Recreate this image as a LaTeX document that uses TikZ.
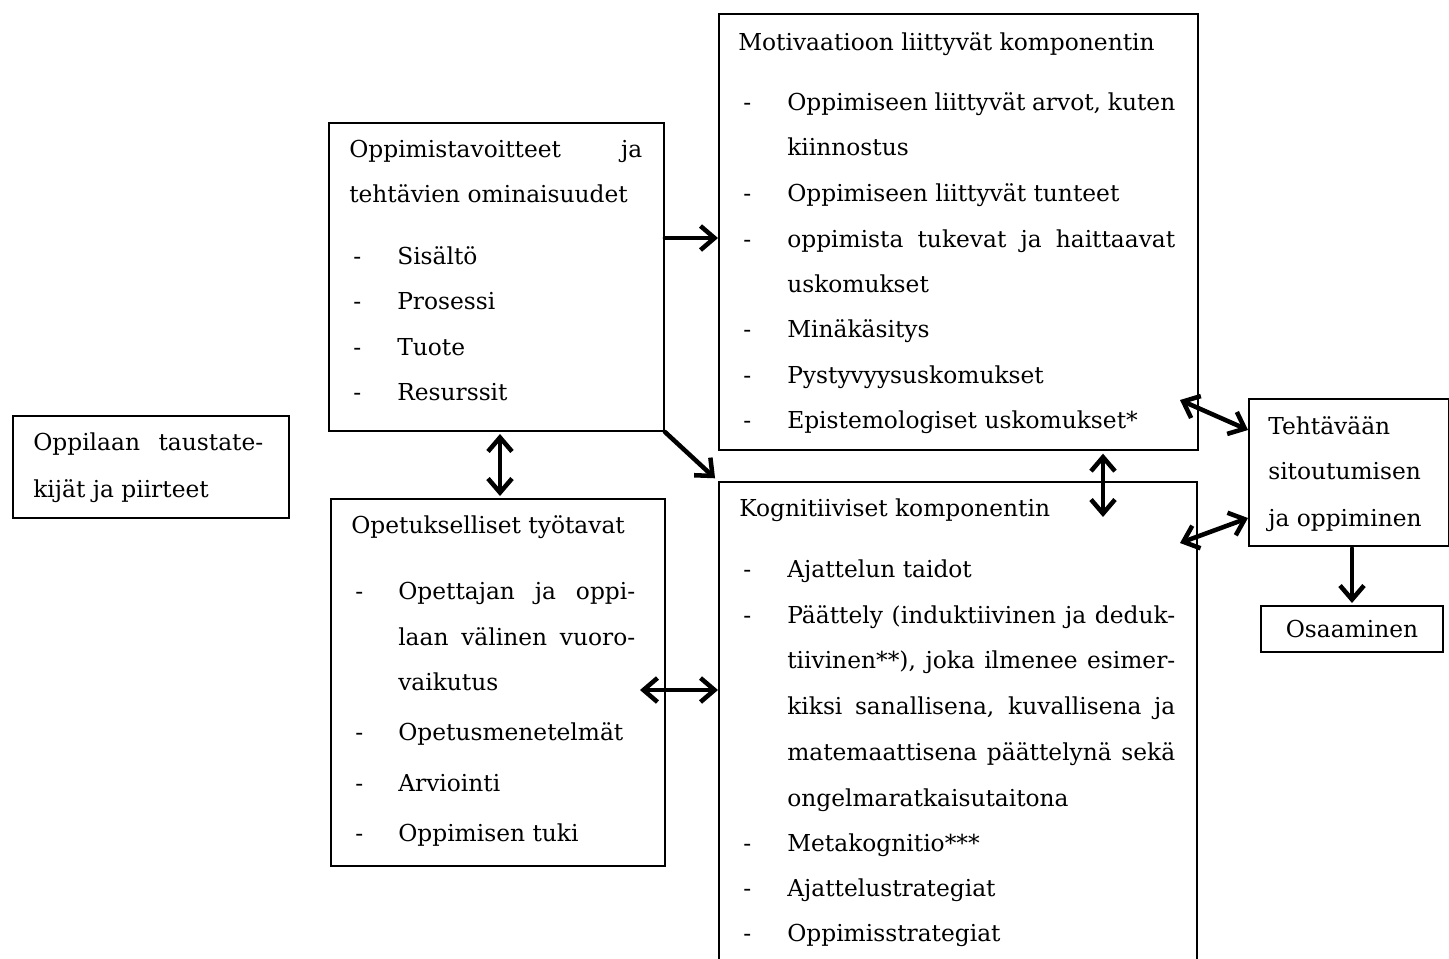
\documentclass[tikz,border=0pt]{standalone}
\usepackage{fontspec}
\setmainfont{DejaVu Serif}
\usetikzlibrary{arrows.meta}
\newcommand\jl[2]{\makebox[\dimexpr 0.75pt*#1\relax][s]{#2}}
\begin{document}
\begin{tikzpicture}[x=0.75pt,y=-0.75pt,
  box/.style={draw, line width=1.5pt, inner sep=0pt, anchor=north west},
  txt/.style={anchor=base west, inner sep=0pt, font=\fontsize{17.5}{21}\selectfont},
  arr/.style={line width=3.4pt, line cap=round, -{Straight Barb[length=10.5pt,width=18pt]}},
  darr/.style={line width=3.4pt, {Straight Barb[length=10.5pt,width=18pt]}-{Straight Barb[length=10.5pt,width=18pt]}}]
\useasboundingbox (0,0) rectangle (1449,958);
\clip (0,0) rectangle (1449,958);
% boxes
\node[box, minimum width=276*0.75pt, minimum height=102*0.75pt] (bg) at (12,415) {};
\node[box, minimum width=335*0.75pt, minimum height=308*0.75pt] (ot) at (328,122) {};
\node[box, minimum width=479*0.75pt, minimum height=436*0.75pt] (mot) at (718,13) {};
\node[box, minimum width=334*0.75pt, minimum height=367*0.75pt] (opt) at (330,498) {};
\node[box, minimum width=478*0.75pt, minimum height=500*0.75pt] (kog) at (718,481) {};
\node[box, minimum width=199.5*0.75pt, minimum height=147*0.75pt] (teh) at (1248,398) {};
\node[box, minimum width=182*0.75pt, minimum height=46*0.75pt, font=\fontsize{17.5}{21}\selectfont] (osa) at (1260,605) {Osaaminen};
% Oppilaan
\node[txt] (bg1) at (33,450) {\jl{230}{Oppilaan taustate-}};
\node[txt] (bg2) at (33,497) {kijät ja piirteet};
% Oppimistavoitteet
\node[txt] (ot1) at (349,157) {\jl{293}{Oppimistavoitteet ja}};
\node[txt] (ot2) at (349,202) {tehtävien ominaisuudet};
\node[txt] (otd1) at (353,264) {-};
\node[txt] (oti1) at (397,264) {Sisältö};
\node[txt] (otd2) at (353,309) {-};
\node[txt] (oti2) at (397,309) {Prosessi};
\node[txt] (otd3) at (353,355) {-};
\node[txt] (oti3) at (397,355) {Tuote};
\node[txt] (otd4) at (353,400) {-};
\node[txt] (oti4) at (397,400) {Resurssit};
% Motivaatioon
\node[txt] (m0) at (738,50) {Motivaatioon liittyvät komponentin};
\node[txt] (md1) at (743,110) {-};
\node[txt] (mi1) at (787,110) {\jl{388}{Oppimiseen liittyvät arvot, kuten}};
\node[txt] (mi1b) at (787,155) {kiinnostus};
\node[txt] (md2) at (743,201) {-};
\node[txt] (mi2) at (787,201) {Oppimiseen liittyvät tunteet};
\node[txt] (md3) at (743,247) {-};
\node[txt] (mi3) at (787,247) {\jl{388}{oppimista tukevat ja haittaavat}};
\node[txt] (mi3b) at (787,292) {uskomukset};
\node[txt] (md4) at (743,337) {-};
\node[txt] (mi4) at (787,337) {Minäkäsitys};
\node[txt] (md5) at (743,383) {-};
\node[txt] (mi5) at (787,383) {Pystyvyysuskomukset};
\node[txt] (md6) at (743,428) {-};
\node[txt] (mi6) at (787,428) {Epistemologiset uskomukset*};
% Kognitiiviset
\node[txt] (k0) at (739,516) {Kognitiiviset komponentin};
\node[txt] (kd1) at (743,577) {-};
\node[txt] (ki1) at (787,577) {Ajattelun taidot};
\node[txt] (kd2) at (743,623) {-};
\node[txt] (ki2) at (787,623) {\jl{388}{Päättely (induktiivinen ja deduk-}};
\node[txt] (ki2b) at (787,668) {\jl{388}{tiivinen**), joka ilmenee esimer-}};
\node[txt] (ki2c) at (787,714) {\jl{388}{kiksi sanallisena, kuvallisena ja}};
\node[txt] (ki2d) at (787,760) {\jl{388}{matemaattisena päättelynä sekä}};
\node[txt] (ki2e) at (787,806) {ongelmaratkaisutaitona};
\node[txt] (kd3) at (743,851) {-};
\node[txt] (ki3) at (787,851) {Metakognitio***};
\node[txt] (kd4) at (743,896) {-};
\node[txt] (ki4) at (787,896) {Ajattelustrategiat};
\node[txt] (kd5) at (743,941) {-};
\node[txt] (ki5) at (787,941) {Oppimisstrategiat};
% Opetukselliset
\node[txt] (o0) at (351,533) {Opetukselliset työtavat};
\node[txt] (od1) at (355,599) {-};
\node[txt] (oi1) at (398,599) {\jl{237}{Opettajan ja oppi-}};
\node[txt] (oi1b) at (398,645) {\jl{237}{laan välinen vuoro-}};
\node[txt] (oi1c) at (398,690) {vaikutus};
\node[txt] (od2) at (355,740) {-};
\node[txt] (oi2) at (398,740) {Opetusmenetelmät};
\node[txt] (od3) at (355,791) {-};
\node[txt] (oi3) at (398,791) {Arviointi};
\node[txt] (od4) at (355,841) {-};
\node[txt] (oi4) at (398,841) {Oppimisen tuki};
% Tehtavaan
\node[txt] (t1) at (1268,434) {Tehtävään};
\node[txt] (t2) at (1268,479) {sitoutumisen};
\node[txt] (t3) at (1268,526) {ja oppiminen};
% arrows
\coordinate (c4) at (640,690);
\coordinate (c5) at (1103,517);
\coordinate (c6) at (1180,400);
\coordinate (c7) at (1180,543);
\draw[arr] (ot.east |- 0,238) -- (mot.west |- 0,238);
\draw[darr, shorten <=1.5pt, shorten >=1.5pt] (500,0 |- ot.south) -- (500,0 |- opt.north);
\draw[arr, shorten >=3pt] (ot.south east) -- (kog.north west);
\draw[darr] (c4) -- (kog.west |- c4);
\draw[darr, shorten <=2pt] (1103,0 |- mot.south) -- (c5);
\draw[darr] (c6) -- (teh.west |- 0,430);
\draw[darr] (c7) -- (teh.west |- 0,518);
\draw[arr, shorten <=1pt, shorten >=1.5pt] (1352,0 |- teh.south) -- (1352,0 |- osa.north);
\end{tikzpicture}
\end{document}
